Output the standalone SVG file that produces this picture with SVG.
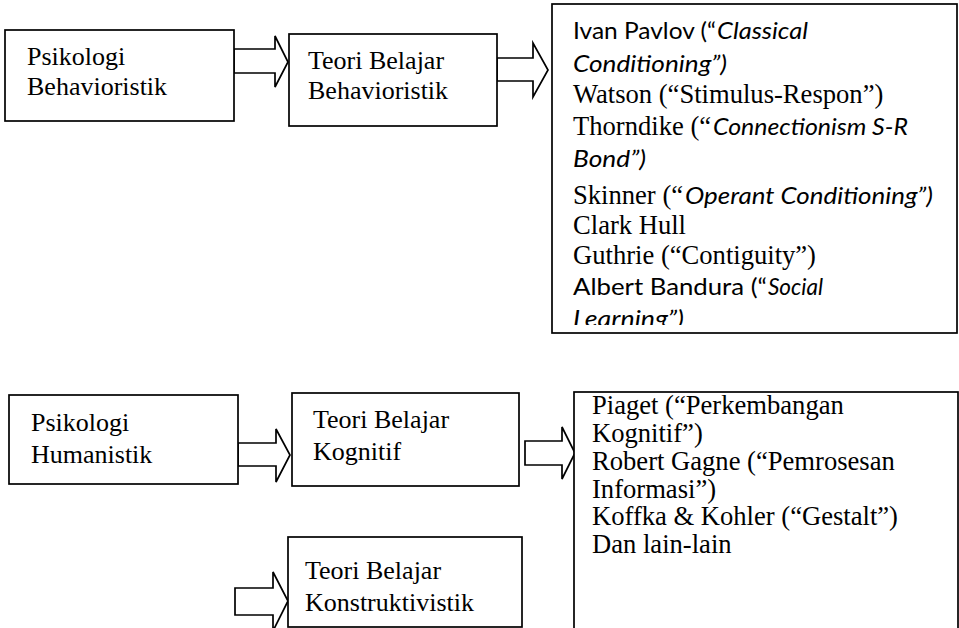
<svg xmlns="http://www.w3.org/2000/svg" width="959" height="628" viewBox="0 0 959 628">
<style>
.box{fill:#fff;stroke:#000;stroke-width:1.7}
.arr{fill:#fff;stroke:#000;stroke-width:1.7;stroke-linejoin:miter}
.t{font-family:"Liberation Serif","Times New Roman",serif;font-size:26px;fill:#000}
.tl{font-size:26.6px}
.c{font-family:Lato,"Open Sans",sans-serif;font-size:24px;fill:#000}
.ci{font-family:Lato,"Open Sans",sans-serif;font-size:24px;font-style:italic;fill:#000}
</style>
<defs>
<clipPath id="clip3"><rect x="552" y="4" width="406" height="321"/></clipPath>
</defs>
<rect width="959" height="628" fill="#fff"/>
<g id="connectors">
<polygon class="arr" points="234,49 275,49 275,36 288,62 275,87 275,73 234,73"/>
<polygon class="arr" points="497,58 533,58 533,43 548,70 533,97 533,81 497,81"/>
<polygon class="arr" points="238,443 276,443 276,429 290,455 276,482 276,466 238,466"/>
<polygon class="arr" points="525,441 562,441 562,427 575,453 562,479 562,465 525,465"/>
<polygon class="arr" points="235,588 273,588 273,572 288,601 273,631 273,615 235,615"/>
</g>
<g id="psikologi-behavioristik">
<rect class="box" x="5" y="30" width="229" height="91"/>
<text class="t" x="27" y="65">Psikologi</text>
<text class="t" x="27" y="95">Behavioristik</text>
</g>
<g id="teori-behavioristik">
<rect class="box" x="289" y="34" width="208" height="92"/>
<text class="t" x="308" y="69">Teori Belajar</text>
<text class="t" x="308" y="99">Behavioristik</text>
</g>
<g id="tokoh-behavioristik">
<rect class="box" x="552" y="4" width="405" height="329"/>
<g clip-path="url(#clip3)">
<text class="c" x="573" y="39" textLength="143" lengthAdjust="spacingAndGlyphs">Ivan Pavlov (“</text>
<text class="ci" x="717" y="39" textLength="91" lengthAdjust="spacingAndGlyphs">Classical</text>
<text class="ci" x="573" y="72" textLength="154" lengthAdjust="spacingAndGlyphs">Conditioning”)</text>
<text class="t tl" x="573" y="103">Watson (“Stimulus-Respon”)</text>
<text class="t tl" x="573" y="135">Thorndike (“</text>
<text class="ci" x="713" y="135" textLength="195" lengthAdjust="spacingAndGlyphs">Connectionism S-R</text>
<text class="ci" x="573" y="167" textLength="73" lengthAdjust="spacingAndGlyphs">Bond”)</text>
<text class="t tl" x="573" y="204">Skinner (“</text>
<text class="ci" x="685" y="204" textLength="248" lengthAdjust="spacingAndGlyphs">Operant Conditioning”)</text>
<text class="t tl" x="573" y="234">Clark Hull</text>
<text class="t tl" x="573" y="264">Guthrie (“Contiguity”)</text>
<text class="c" x="573" y="295" textLength="194" lengthAdjust="spacingAndGlyphs">Albert Bandura (“</text>
<text class="ci" x="768" y="295" textLength="55" lengthAdjust="spacingAndGlyphs">Social</text>
<text class="ci" x="573" y="327" textLength="111" lengthAdjust="spacingAndGlyphs">Learning”)</text>
</g>
</g>
<g id="psikologi-humanistik">
<rect class="box" x="9" y="395" width="229" height="89"/>
<text class="t" x="31" y="431">Psikologi</text>
<text class="t" x="31" y="463">Humanistik</text>
</g>
<g id="teori-kognitif">
<rect class="box" x="292" y="393" width="227" height="93"/>
<text class="t" x="313" y="428">Teori Belajar</text>
<text class="t" x="313" y="460">Kognitif</text>
</g>
<g id="tokoh-kognitif">
<rect class="box" x="574" y="392" width="384" height="250"/>
<text class="t tl" x="592" y="414">Piaget (“Perkembangan</text>
<text class="t tl" x="592" y="442">Kognitif”)</text>
<text class="t tl" x="592" y="470">Robert Gagne (“Pemrosesan</text>
<text class="t tl" x="592" y="498">Informasi”)</text>
<text class="t tl" x="592" y="525">Koffka &amp; Kohler (“Gestalt”)</text>
<text class="t tl" x="592" y="553">Dan lain-lain</text>
</g>
<g id="teori-konstruktivistik">
<rect class="box" x="288" y="537" width="234" height="90"/>
<text class="t" x="305" y="579">Teori Belajar</text>
<text class="t" x="305" y="611">Konstruktivistik</text>
</g>
</svg>
